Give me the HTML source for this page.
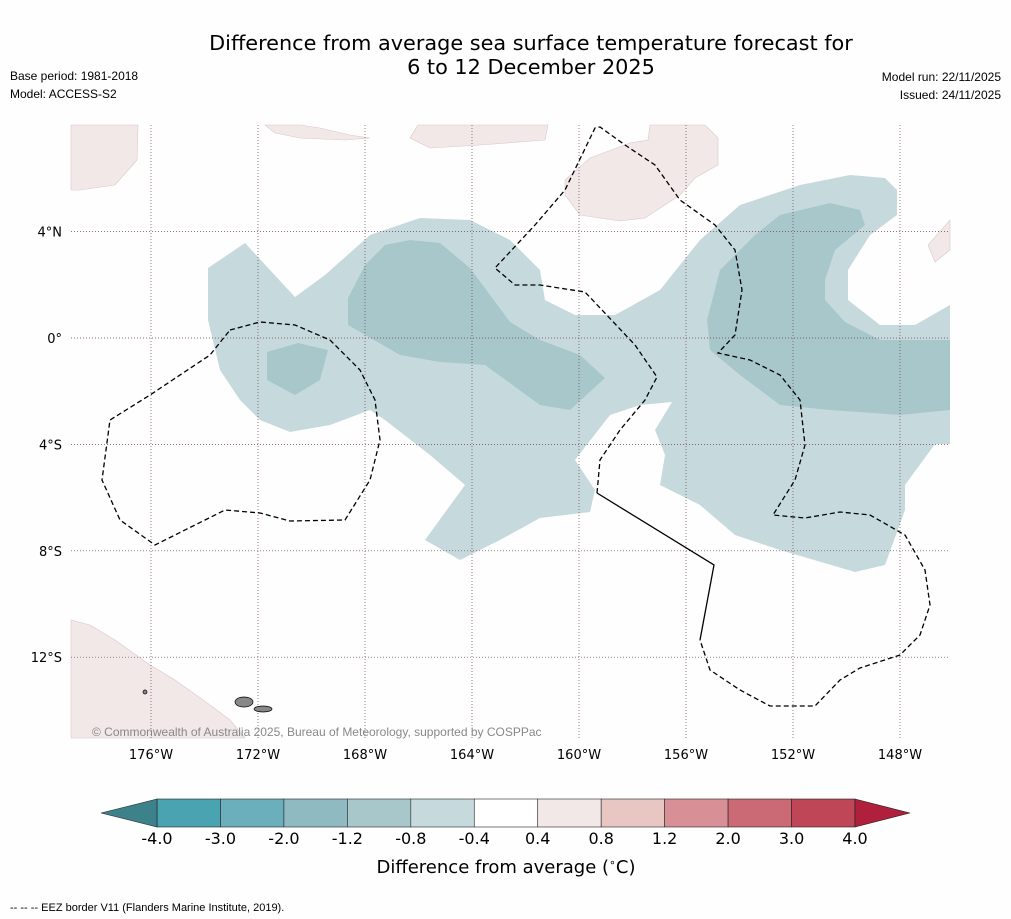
<!DOCTYPE html>
<html><head><meta charset="utf-8">
<style>
body{margin:0;background:#fefefe;font-family:"Liberation Sans",sans-serif;}
svg{display:block}
.dj{font-family:"DejaVu Sans","Liberation Sans",sans-serif;}
</style></head>
<body>
<svg id="chart" width="1011" height="919" xmlns="http://www.w3.org/2000/svg">
<rect x="0" y="0" width="1011" height="919" fill="#fefefe"/>
<text class="dj" x="531" y="50" font-size="20.8" text-anchor="middle" fill="#000">Difference from average sea surface temperature forecast for</text>
<text class="dj" x="531" y="74" font-size="20.8" text-anchor="middle" fill="#000">6 to 12 December 2025</text>
<text x="10" y="80" font-size="12">Base period: 1981-2018</text>
<text x="10" y="98" font-size="12">Model: ACCESS-S2</text>
<text x="1001" y="81" font-size="12" text-anchor="end">Model run: 22/11/2025</text>
<text x="1001" y="99" font-size="12" text-anchor="end">Issued: 24/11/2025</text>
<g id="map"></g>
<g id="cbar"></g>
<text class="dj" x="506" y="873" font-size="18" text-anchor="middle">Difference from average (<tspan font-size="11" dy="-7">∘</tspan><tspan dy="7">C)</tspan></text>
<text x="10" y="911" font-size="11">--  --  -- EEZ border V11 (Flanders Marine Institute, 2019).</text>
</svg>
<script>
const lonTicks=[-176,-172,-168,-164,-160,-156,-152,-148];
const lonLabels=["176°W","172°W","168°W","164°W","160°W","156°W","152°W","148°W"];
const latTicks=[4,0,-4,-8,-12];
const latLabels=["4°N","0°","4°S","8°S","12°S"];
const levels=["-4.0","-3.0","-2.0","-1.2","-0.8","-0.4","0.4","0.8","1.2","2.0","3.0","4.0"];
const levelColors=["#4aa3b1","#6aafbb","#8fbac2","#a8c7cb","#c6dadd","#ffffff","#f3e8e8","#e8c7c3","#d88f96","#cb6a74","#be4656"];
const extendColors=["#3d818b","#b01f3c"];
const X=lon=>151+(lon+176)*26.75;
const Y=lat=>338-lat*26.6;
const NS="http://www.w3.org/2000/svg";
const map=document.getElementById('map');
function mk(tag,attrs,parent){const e=document.createElementNS(NS,tag);for(const k in attrs)e.setAttribute(k,attrs[k]);parent.appendChild(e);return e;}
function pp(pts){return pts.map(p=>X(-176+(p[0]-151)/26.75)+","+Y((338-p[1])/26.6)).join(" ");}
const light=[[208,268],[245,243],[295,297],[325,275],[370,235],[420,218],[470,220],[510,240],[540,270],[545,300],[575,315],[615,315],[660,290],[700,240],[740,205],[800,185],[850,175],[885,178],[897,190],[897,215],[870,235],[848,270],[848,300],[880,325],[915,325],[950,305],[950,444],[935,444],[905,485],[905,510],[885,565],[855,572],[780,550],[735,535],[700,505],[660,485],[665,455],[655,430],[672,402],[640,405],[610,415],[575,460],[595,490],[590,512],[540,518],[500,540],[460,560],[425,540],[465,485],[430,455],[385,420],[370,410],[330,425],[290,432],[260,420],[240,400],[220,370],[208,320]];
const darkA=[[348,298],[365,265],[385,245],[410,240],[440,243],[470,268],[510,322],[540,340],[580,355],[605,378],[570,410],[540,405],[485,365],[440,362],[400,355],[348,325]];
const darkB=[[267,352],[298,343],[328,350],[320,380],[295,395],[267,380]];
const darkC=[[707,320],[720,270],[755,235],[780,215],[830,203],[860,210],[865,225],[835,250],[825,280],[825,300],[845,322],[880,340],[950,340],[950,410],[900,415],[830,410],[780,405],[740,375],[710,350]];
const lands=[
[[71,125],[138,125],[137,160],[115,185],[80,190],[71,190]],
[[265,125],[300,125],[320,128],[350,135],[370,138],[345,140],[300,138],[275,133]],
[[418,125],[548,125],[545,140],[480,145],[430,148],[410,138]],
[[650,125],[705,125],[718,138],[718,165],[695,178],[680,195],[645,218],[620,221],[580,215],[565,195],[565,180],[590,158],[630,143],[648,140]],
[[950,220],[950,250],[935,262],[928,245]],
[[71,620],[90,625],[115,640],[150,665],[175,680],[210,705],[230,720],[245,738],[71,738]]];
let e;
e=mk('polygon',{points:pp(light),fill:"#c6dadd"},map);


[darkA,darkB,darkC].forEach(d=>{const p=mk('polygon',{points:pp(d),fill:"#a8c7cb"},map);

});
lands.forEach(d=>{const p=mk('polygon',{points:pp(d),fill:"#f3e8e8",stroke:"#d9c8c8","stroke-width":0.6},map);

});
lonTicks.forEach((lon,i)=>{const l=mk('line',{x1:X(lon),x2:X(lon),y1:125,y2:738,stroke:"#6a4050","stroke-width":0.7,"stroke-dasharray":"1,2"},map);


const t=mk('text',{x:X(lon),y:759,"font-size":13,"text-anchor":"middle",class:"dj"},map);t.textContent=lonLabels[i];

});
latTicks.forEach((lat,i)=>{const l=mk('line',{x1:71,x2:950,y1:Y(lat),y2:Y(lat),stroke:"#6a4050","stroke-width":0.7,"stroke-dasharray":"1,2"},map);


const t=mk('text',{x:62,y:Y(lat)+5,"font-size":13,"text-anchor":"end",class:"dj"},map);t.textContent=latLabels[i];

});
const eez1=[[230,330],[260,322],[295,325],[330,340],[360,370],[375,400],[380,440],[370,480],[345,520],[290,521],[260,513],[225,510],[155,545],[120,520],[102,480],[110,420],[150,395],[210,355],[230,330]];
const eez2=[[597,493],[600,460],[620,430],[645,400],[657,377],[635,345],[585,292],[540,285],[515,285],[495,268],[535,225],[565,190],[595,128],[600,127],[625,145],[655,165],[680,200],[715,225],[735,250],[742,290],[735,335],[718,353],[750,360],[780,375],[800,400],[805,445],[795,480],[773,515],[805,518],[840,512],[870,515],[905,535],[925,570],[930,605],[920,635],[900,655],[860,668],[840,680],[815,706],[770,706],[740,690],[710,670],[700,640]];
const eezSolid=[[597,493],[714,565],[700,640]];
[eez1,eez2].forEach(d=>{const p=mk('polyline',{points:pp(d),fill:"none",stroke:"#000","stroke-width":1.3,"stroke-dasharray":"5,3"},map);

});
e=mk('polyline',{points:pp(eezSolid),fill:"none",stroke:"#000","stroke-width":1.3},map);


const isl=[[244,702,9,5],[263,709,9,3],[145,692,2,2]];
isl.forEach(s=>{const p=mk('ellipse',{cx:s[0],cy:s[1],rx:s[2],ry:s[3],fill:"#888",stroke:"#000","stroke-width":0.7},map);

});
e=mk('text',{x:92,y:736,"font-size":12,fill:"#888"},map);e.textContent="© Commonwealth of Australia 2025, Bureau of Meteorology, supported by COSPPac";


const cb=document.getElementById('cbar');
const cx0=157,cx1=855,cy=799,ch=28,bw=(cx1-cx0)/levelColors.length;
levelColors.forEach((c,i)=>{const r=mk('rect',{x:cx0+i*bw,y:cy,width:bw,height:ch,fill:c,stroke:"#222","stroke-width":0.6},cb);

});
e=mk('polygon',{points:`${cx0},${cy} 101,${cy+ch/2} ${cx0},${cy+ch}`,fill:extendColors[0],stroke:"#222","stroke-width":0.6},cb);


e=mk('polygon',{points:`${cx1},${cy} 910,${cy+ch/2} ${cx1},${cy+ch}`,fill:extendColors[1],stroke:"#222","stroke-width":0.6},cb);


levels.forEach((l,i)=>{const t=mk('text',{x:cx0+i*bw,y:844,"font-size":16,"text-anchor":"middle",class:"dj"},cb);t.textContent=l;

});
</script>
</body></html>
